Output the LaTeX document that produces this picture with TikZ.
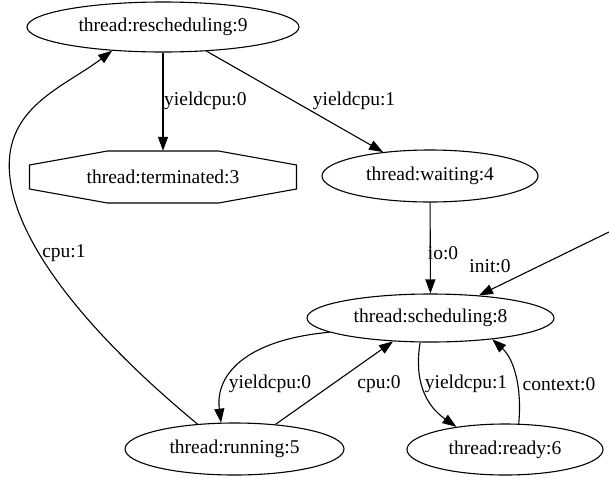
\documentclass[tikz,border=0pt]{standalone}
\usepackage{fontspec}
\setmainfont{Liberation Serif}
\usetikzlibrary{arrows.meta,shapes.geometric,calc}
\begin{document}
\begin{tikzpicture}[x=1pt,y=-1pt,
  txt/.style={font=\fontsize{19.5}{23}\selectfont},
  state/.style={txt, draw, ellipse, line width=1.1pt, inner sep=0pt},
  lbl/.style={txt, inner sep=0pt},
  edge/.style={draw, line width=1.1pt, -{Triangle[length=14pt,width=10pt]}}]
\useasboundingbox[fill=white] (0,0) rectangle (609,477);

% states
\node[state, minimum width=272pt, minimum height=50pt] (resch) at (163,27) {thread:rescheduling:9};
\node[lbl, minimum width=267pt, minimum height=52pt] (term) at (163,177) {thread:terminated:3};
\draw[line width=1.1pt]
  ($(term.center)+(-133.5,-12)$) -- ($(term.center)+(-55.5,-26)$) --
  ($(term.center)+(55.5,-26)$) -- ($(term.center)+(133.5,-12)$) --
  ($(term.center)+(133.5,12)$) -- ($(term.center)+(55.5,26)$) --
  ($(term.center)+(-55.5,26)$) -- ($(term.center)+(-133.5,12)$) -- cycle;
\node[state, minimum width=216pt, minimum height=52pt] (wait) at (430,176) {thread:waiting:4};
\node[state, minimum width=247pt, minimum height=48pt] (sched) at (430.5,318) {thread:scheduling:8};
\node[state, minimum width=219pt, minimum height=52pt] (run) at (234.5,449) {thread:running:5};
\node[state, minimum width=196pt, minimum height=51pt] (ready) at (505,449.5) {thread:ready:6};
\coordinate (initsrc) at (609,232);

% transitions
\draw[edge] (resch) -- (term);
\node[lbl, anchor=west] (l1) at (164,101) {yieldcpu:0};

\draw[edge] (resch.-29) -- (wait.153);
\node[lbl] (l2) at (354,101) {yieldcpu:1};

\draw[edge] (wait) -- (sched);
\node[lbl] (l3) at (443,253) {io:0};

\draw[edge] (initsrc) -- (sched.25);
\node[lbl] (l4) at (490,266) {init:0};

\draw[edge] (sched.188) .. controls (245,340) and (215,375) .. (run.117);
\node[lbl] (l5) at (270,384) {yieldcpu:0};

\draw[edge] (run.31) -- (sched.212);
\node[lbl] (l6) at (379,384) {cpu:0};

\draw[edge] (sched.247) .. controls (414,380) and (425,405) .. (ready.155);
\node[lbl] (l7) at (466,384) {yieldcpu:1};

\draw[edge] (ready.62) .. controls (522,390) and (515,360) .. (sched.-19);
\node[lbl] (l8) at (559,384) {context:0};

\draw[edge] (run.146) .. controls (120,360) and (30,270) .. (12,190)
  .. controls (-5,110) and (60,90) .. (resch.205);
\node[lbl] (l9) at (64,253) {cpu:1};
\end{tikzpicture}
\end{document}
